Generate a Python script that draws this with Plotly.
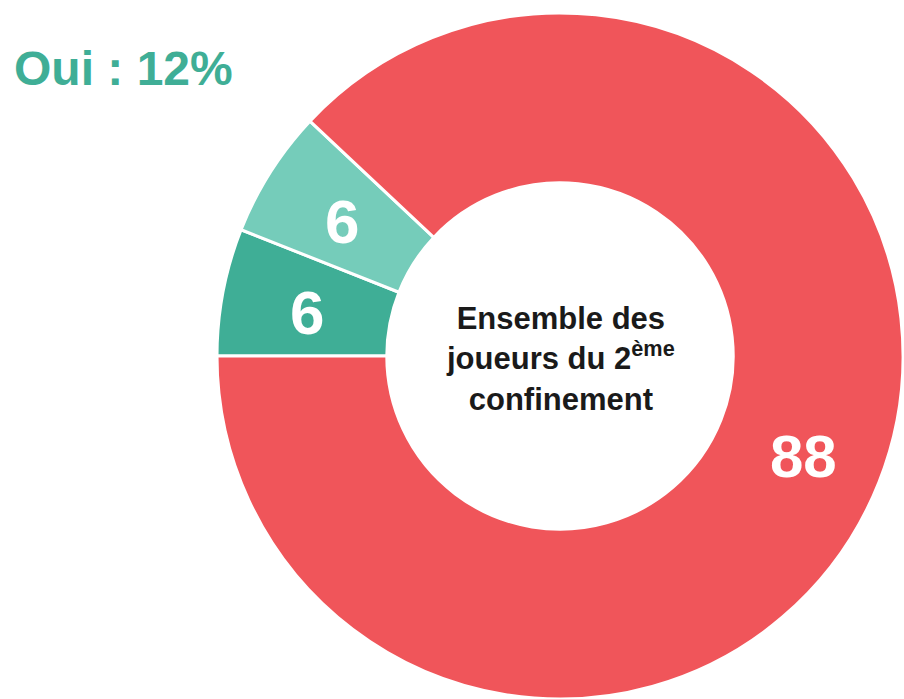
import plotly.graph_objects as go

categories = ["Oui, régulièrement", "Oui, occasionnellement", "Non"]
values = [6, 6, 88]
colors = ["#3FAE96", "#75CCBA", "#F0555A"]
label_pos = [(307, 312), (342, 222), (803, 456)]
label_size = [62, 62, 60]

W, H = 904, 699


def px(x):
    return x / W


def py(y):
    return 1 - y / H


fig = go.Figure(go.Pie(
    labels=categories,
    values=values,
    sort=False,
    direction="clockwise",
    rotation=270,
    hole=0.505,
    marker=dict(colors=colors, line=dict(color="white", width=3)),
    textinfo="none",
    hoverinfo="label+value",
    showlegend=False,
    domain=dict(x=[px(216), 1.0], y=[0.0, py(13)]),
))

anns = []
for v, (x, y), s in zip(values, label_pos, label_size):
    anns.append(dict(
        text=f"<b>{v}</b>", x=px(x), y=py(y), xref="paper", yref="paper",
        showarrow=False, xanchor="center", yanchor="middle",
        font=dict(family="Liberation Sans, Arial", size=s, color="white"),
    ))

anns.append(dict(
    text="<b>Ensemble des<br>joueurs du 2<sup>ème</sup><br>confinement</b>",
    x=px(560), y=py(359), xref="paper", yref="paper",
    showarrow=False, xanchor="center", yanchor="middle", align="center",
    font=dict(family="Liberation Sans, Arial", size=31, color="#1a1a1a"),
))

anns.append(dict(
    text=f"<b>Oui : {values[0] + values[1]}%</b>",
    x=px(12), y=py(68), xref="paper", yref="paper",
    showarrow=False, xanchor="left", yanchor="middle",
    font=dict(family="Liberation Sans, Arial", size=48, color="#3FAE96"),
))

fig.update_layout(
    width=W, height=H,
    margin=dict(l=0, r=0, t=0, b=0),
    paper_bgcolor="white", plot_bgcolor="white",
    annotations=anns,
)

fig.write_html(
    "out.html",
    config={"displayModeBar": False},
    post_script="document.body.style.margin='0';document.body.style.overflow='hidden';",
)
